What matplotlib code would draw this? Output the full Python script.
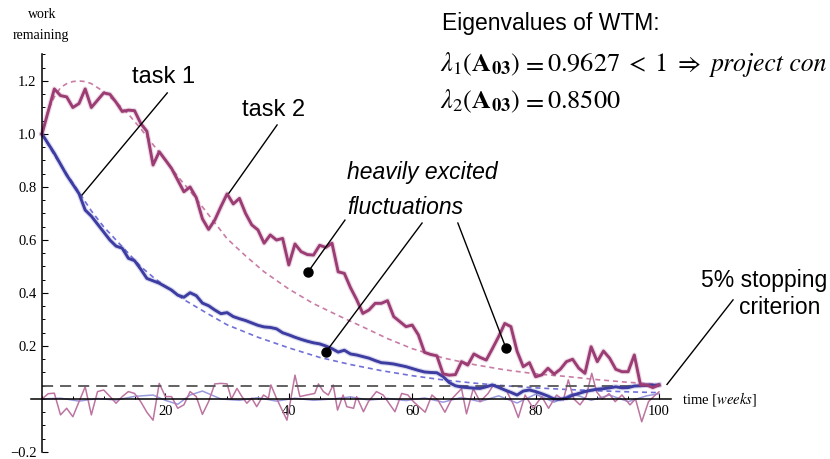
import matplotlib.pyplot as plt
import numpy as np
from matplotlib.ticker import MultipleLocator

plt.rcParams['font.family'] = ['Liberation Sans', 'DejaVu Sans']
plt.rcParams['mathtext.fontset'] = 'stix'
plt.rcParams['lines.scale_dashes'] = False

# task 1 (thick blue)
task1_t = [0, 2, 4, 6, 7, 8, 10, 11, 12, 13, 14, 15, 16, 17, 18, 19, 20, 21, 22, 23, 24, 25,
           26, 27, 28, 29, 30, 31, 32, 33, 34, 35, 36, 37, 38, 39, 40, 41, 42, 43, 44, 45, 46,
           47, 48, 49, 50, 51, 52, 53, 54, 55, 56, 57, 58, 59, 60, 61, 62, 63, 64, 65, 66, 67,
           68, 69, 70, 71, 72, 73, 74, 75, 76, 77, 78, 79, 80, 81, 82, 83, 84, 85, 86, 87, 88,
           89, 90, 91, 92, 93, 94, 95, 96, 97, 98, 99, 100]
task1_y = [1.00, 0.927, 0.845, 0.775, 0.713, 0.69, 0.63, 0.60, 0.577, 0.569, 0.531, 0.522, 0.49,
           0.455, 0.446, 0.437, 0.424, 0.411, 0.392, 0.384, 0.401, 0.39, 0.362, 0.352, 0.336,
           0.322, 0.326, 0.311, 0.303, 0.296, 0.287, 0.278, 0.272, 0.27, 0.265, 0.25, 0.242,
           0.233, 0.225, 0.218, 0.212, 0.208, 0.20, 0.19, 0.177, 0.184, 0.17, 0.166, 0.16, 0.154,
           0.145, 0.137, 0.135, 0.132, 0.127, 0.122, 0.115, 0.108, 0.102, 0.10, 0.099, 0.085,
           0.062, 0.05, 0.045, 0.043, 0.041, 0.04, 0.046, 0.053, 0.044, 0.034, 0.025, 0.015,
           0.03, 0.034, 0.028, 0.02, 0.011, 0.0, -0.001, 0.003, 0.014, 0.021, 0.028, 0.033,
           0.037, 0.039, 0.042, 0.046, 0.042, 0.043, 0.049, 0.05, 0.053, 0.052, 0.053]

# task 2 (thick purple)
task2_t = [0, 2, 3, 4, 5, 6, 7, 8, 10, 11, 12, 13, 14, 15, 16, 17, 18, 19, 20, 21, 22, 23, 24,
           25, 26, 27, 28, 29, 30, 31, 32, 33, 34, 35, 36, 37, 38, 39, 40, 41, 42, 43, 44, 45,
           46, 47, 48, 49, 50, 51, 52, 53, 54, 55, 56, 57, 58, 59, 60, 61, 62, 63, 64, 65, 66,
           67, 68, 69, 70, 71, 72, 73, 74, 75, 76, 77, 78, 79, 80, 81, 82, 83, 84, 85, 86, 87,
           88, 89, 90, 91, 92, 93, 94, 95, 96, 97, 98, 99, 100]
task2_y = [1.00, 1.17, 1.145, 1.14, 1.10, 1.115, 1.17, 1.10, 1.155, 1.15, 1.12, 1.085, 1.09,
           1.088, 1.04, 1.01, 0.883, 0.933, 0.902, 0.87, 0.826, 0.782, 0.80, 0.76, 0.68, 0.64,
           0.675, 0.726, 0.774, 0.736, 0.757, 0.70, 0.657, 0.638, 0.588, 0.619, 0.60, 0.606,
           0.506, 0.585, 0.556, 0.545, 0.543, 0.58, 0.572, 0.588, 0.48, 0.474, 0.42, 0.375,
           0.323, 0.336, 0.361, 0.361, 0.371, 0.311, 0.292, 0.273, 0.279, 0.242, 0.176, 0.168,
           0.163, 0.095, 0.09, 0.092, 0.141, 0.128, 0.17, 0.157, 0.147, 0.19, 0.235, 0.285,
           0.273, 0.18, 0.122, 0.137, 0.084, 0.091, 0.116, 0.094, 0.112, 0.141, 0.15, 0.116,
           0.097, 0.197, 0.141, 0.181, 0.154, 0.112, 0.103, 0.103, 0.166, 0.053, 0.053, 0.043,
           0.053]

# expected (dashed) curves
exp1_t = [0, 2, 4, 6, 8, 10, 12, 14, 16, 18, 20, 23, 27, 30, 35, 40, 45, 50, 55, 60, 65, 70,
          75, 80, 85, 90, 95, 100]
exp1_y = [1.0, 0.92, 0.85, 0.78, 0.71, 0.65, 0.60, 0.55, 0.50, 0.46, 0.425, 0.375, 0.32, 0.28,
          0.233, 0.193, 0.157, 0.13, 0.107, 0.088, 0.072, 0.06, 0.05, 0.042, 0.036, 0.031,
          0.027, 0.024]
exp2_t = [0, 1, 2, 3, 4, 5, 6, 7, 8, 9, 10, 12, 14, 16, 18, 20, 22, 24, 26, 28, 30, 33, 36,
          40, 44, 48, 52, 56, 60, 65, 70, 75, 80, 85, 90, 95, 100]
exp2_y = [1.0, 1.09, 1.14, 1.175, 1.19, 1.198, 1.20, 1.198, 1.19, 1.175, 1.16, 1.12, 1.075,
          1.02, 0.96, 0.90, 0.84, 0.785, 0.725, 0.665, 0.605, 0.54, 0.48, 0.415, 0.36, 0.315,
          0.272, 0.228, 0.19, 0.155, 0.13, 0.11, 0.095, 0.085, 0.073, 0.063, 0.056]

# fluctuations (thin lines)
fluc2_t = [0, 1, 2, 3, 4, 5, 6, 7, 8, 9, 10, 11, 12, 13, 14, 15, 16, 17, 18, 19, 20, 21, 22,
           23, 24, 25, 26, 27, 28, 29, 30, 30.7, 31.6, 32.4, 33.2, 34.0, 34.8, 35.9, 36.7, 37.1,
           38.0, 39.7, 40.3, 41.0, 41.8, 42.9, 44.2, 44.8, 45.6, 46.4, 47.2, 47.9, 48.8, 49.4,
           50.5, 51.0, 52.1, 52.9, 54.2, 55.3, 57.2, 58.3, 59.3, 60.2, 62.1, 63.2, 64.2, 65.3,
           66.4, 68.0, 68.8, 69.9, 71.0, 72.3, 73.1, 74.2, 75.3, 76.4, 77.2, 78.3, 79.6, 81.0,
           82.1, 83.4, 84.5, 85.3, 86.2, 87.2, 88.2, 89.1, 89.9, 90.8, 91.9, 92.9, 94.0, 95.3,
           96.2, 97.2, 98.3, 99.4, 100]
fluc2_y = [0.0, 0.02, 0.022, -0.06, -0.035, -0.067, -0.01, 0.046, -0.06, 0.028, 0.034, 0.01,
           -0.016, 0.009, 0.028, 0.021, -0.01, -0.05, -0.08, 0.059, 0.009, 0.009, -0.035,
           -0.022, 0.028, 0.009, -0.058, -0.01, 0.057, 0.059, 0.057, 0.0, 0.04, 0.009, -0.016,
           0.003, -0.029, 0.015, 0.003, 0.053, 0.003, -0.08, -0.004, 0.09, 0.009, 0.015, 0.021,
           0.057, 0.028, 0.015, 0.053, -0.042, 0.015, -0.029, -0.035, 0.009, -0.048, -0.01,
           0.028, 0.015, -0.048, 0.021, 0.015, -0.01, -0.05, 0.015, -0.005, -0.05, 0.0, 0.039,
           -0.056, 0.039, -0.01, 0.021, 0.05, 0.046, 0.03, -0.02, -0.07, 0.015, -0.035, 0.009,
           -0.035, 0.015, -0.004, 0.072, 0.0, -0.022, 0.01, 0.097, 0.027, 0.0, 0.02, -0.01,
           0.015, -0.022, 0.0, -0.086, -0.01, 0.015, 0.027]
fluc1_t = [0, 3, 6, 9, 12, 15, 18, 20, 22, 24, 26, 29, 32, 35, 38, 41, 44, 47, 50, 53, 56, 59,
           62, 65, 68, 71, 74, 77, 80, 83, 86, 89, 92, 95, 98, 100]
fluc1_y = [0.0, 0.003, -0.008, 0.002, -0.004, 0.01, 0.015, -0.005, -0.02, 0.015, 0.03, 0.0,
           -0.005, 0.005, -0.008, 0.003, -0.005, 0.0, 0.008, -0.004, 0.002, -0.006, 0.004,
           -0.012, 0.006, -0.01, 0.012, -0.015, 0.018, -0.012, 0.02, -0.005, 0.015, -0.01,
           0.012, 0.02]

stop_t = [0, 100]
stop_y = [0.05, 0.05]

ytick_vals = [-0.2, 0.2, 0.4, 0.6, 0.8, 1.0, 1.2]
ytick_labels = ['\u22120.2', '0.2', '0.4', '0.6', '0.8', '1.0', '1.2']
xtick_vals = [20, 40, 60, 80, 100]

blue = '#3c3ca2'
purple = '#9c3c74'

fig = plt.figure(figsize=(8.3, 4.59), dpi=100)
ax = fig.add_axes([0.03573, 0.00948, 0.78054, 0.87179])
ax.set_xlim(-2, 103)
ax.set_ylim(-0.21, 1.3)

ax.plot(exp2_t, exp2_y, color='#c97ca4', lw=1.2, dashes=(3.6, 2.8))
ax.plot(exp1_t, exp1_y, color='#7070d8', lw=1.2, dashes=(3.6, 2.8))
ax.plot(fluc1_t, fluc1_y, color='#9a9ade', lw=1.1)
ax.plot(fluc2_t, fluc2_y, color='#bd74a0', lw=1.1)
ax.plot(stop_t, stop_y, color='#555555', lw=1.3, dashes=(8, 5))

for t, y, c in [(task1_t, task1_y, blue), (task2_t, task2_y, purple)]:
    ax.plot(t, y, color=c, lw=3.8, alpha=0.18, solid_joinstyle='round')
    ax.plot(t, y, color=c, lw=2.1, solid_joinstyle='round')

# callouts
ax.plot([20.3, 6.5], [1.155, 0.77], color='k', lw=1)
ax.plot([38.1, 30.3], [1.034, 0.777], color='k', lw=1)
ax.plot([49.1, 43.1], [0.675, 0.479], color='k', lw=1)
ax.plot([61.6, 46.0], [0.664, 0.177], color='k', lw=1)
ax.plot([67.4, 75.2], [0.664, 0.192], color='k', lw=1)
ax.plot([43.1, 46.0, 75.2], [0.479, 0.177, 0.192], 'o', color='k', ms=6.5)
ax.plot([112, 101.3], [0.374, 0.055], color='k', lw=1, clip_on=False)

for side in ['top', 'right']:
    ax.spines[side].set_visible(False)
ax.spines['left'].set_position(('data', 0))
ax.spines['bottom'].set_position(('data', 0))
ax.spines['left'].set_bounds(-0.2, 1.3)
ax.spines['bottom'].set_bounds(-1.8, 102)
ax.spines['left'].set_linewidth(1.1)
ax.spines['bottom'].set_linewidth(1.1)

ax.set_yticks(ytick_vals)
ax.set_yticklabels(ytick_labels)
ax.set_xticks(xtick_vals)
ax.set_xticklabels([str(v) for v in xtick_vals])
ax.yaxis.set_minor_locator(MultipleLocator(0.05))
ax.xaxis.set_minor_locator(MultipleLocator(5))
ax.tick_params(which='major', direction='in', length=4, width=0.8, pad=4)
ax.tick_params(which='minor', direction='in', length=2, width=0.7)
for lab in ax.get_xticklabels() + ax.get_yticklabels():
    lab.set_family('Liberation Serif')
    lab.set_fontsize(10.5)


def ftext(px, py, s, **kw):
    fig.text(px / 830, 1 - py / 459, s, va='baseline', **kw)


ftext(42, 18, 'work', family='Liberation Serif', fontsize=10, ha='center')
ftext(41, 39, 'remaining', family='Liberation Serif', fontsize=10, ha='center')
ftext(682, 404, r'time $[\mathit{weeks}]$', family='Liberation Serif', fontsize=10.5)

ftext(132, 83, 'task 1', fontsize=17)
ftext(242, 116, 'task 2', fontsize=17)
ftext(347, 179, 'heavily excited', fontsize=16.5, style='italic')
ftext(347, 214, 'fluctuations', fontsize=16.5, style='italic')
ftext(701, 287, '5% stopping', fontsize=16.5)
ftext(739, 314, 'criterion', fontsize=16.5)
ftext(442, 30, 'Eigenvalues of WTM:', fontsize=16.5)

# eigenvalue lines, set piece by piece like the equation editor original
ftext(440, 71, r'$\lambda_1(\mathbf{A}_{\mathbf{03}})$', fontsize=19)
ftext(522, 71, r'$=$', fontsize=19)
ftext(547, 71, r'$0.9627$', fontsize=19)
ftext(625, 71, r'$<$', fontsize=18)
ftext(654, 71, r'$1$', fontsize=19)
ftext(674, 71, r'$\Rightarrow$', fontsize=18)
ftext(711, 71, 'project con', family='STIXGeneral', style='italic', fontsize=18.5)
ftext(440, 108, r'$\lambda_2(\mathbf{A}_{\mathbf{03}})$', fontsize=19)
ftext(522, 108, r'$=$', fontsize=19)
ftext(547, 108, r'$0.8500$', fontsize=19)

fig.savefig('out.png', dpi=100)
